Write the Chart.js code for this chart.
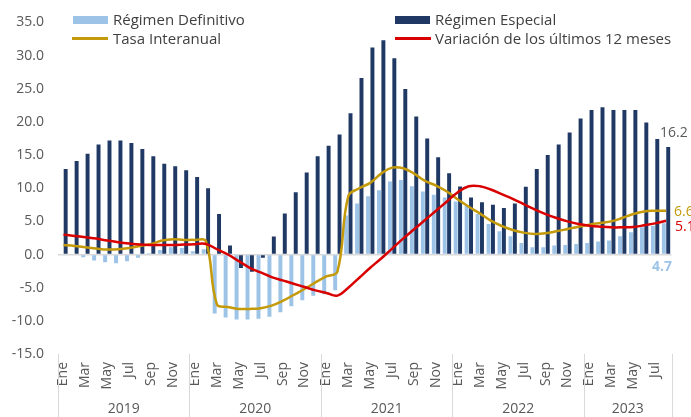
<!DOCTYPE html>
<html>
<head>
<meta charset="utf-8">
<script src="https://cdn.jsdelivr.net/npm/chart.js@4.4.0/dist/chart.umd.min.js"></script>
<style>
html,body{margin:0;padding:0;background:#fff;}
#wrap{position:relative;width:691px;height:417px;overflow:hidden;}
canvas{display:block;}
.li{position:absolute;font-family:'Open Sans',sans-serif;font-size:15px;color:#404040;white-space:nowrap;line-height:18px;}
.sw{position:absolute;}
</style>
</head>
<body>
<div id="wrap">
<canvas id="c" width="691" height="417"></canvas>
<div class="sw" style="left:73px;top:16px;width:35px;height:8px;background:#9DC3E6;"></div>
<div class="li" style="left:113px;top:10px;">Régimen Definitivo</div>
<div class="sw" style="left:72px;top:37px;width:36px;height:2.5px;background:#C49A0A;"></div>
<div class="li" style="left:113px;top:29px;">Tasa Interanual</div>
<div class="sw" style="left:395px;top:16px;width:35px;height:8px;background:#1F3864;"></div>
<div class="li" style="left:435px;top:10px;">Régimen Especial</div>
<div class="sw" style="left:395px;top:37px;width:36px;height:2.5px;background:#D90000;"></div>
<div class="li" style="left:435px;top:29px;">Variación de los últimos 12 meses</div>
</div>
<script>
// ---- Data ----
const years = ['2019','2020','2021','2022','2023'];
const monthNames = ['Ene','Feb','Mar','Abr','May','Jun','Jul','Ago','Sep','Oct','Nov','Dic'];
const monthsPerYear = [12,12,12,12,8];

const regimenDefinitivo = [
  0.0, 0.1, -0.4, -0.9, -1.15, -1.3, -1.0, -0.5, 0.2, 0.7, 1.1, 1.0,
  0.5, 0.8, -8.9, -9.5, -9.8, -9.8, -9.7, -9.4, -8.7, -7.8, -6.9, -6.2,
  -6.0, -5.4, 5.9, 7.7, 8.8, 9.7, 11.0, 11.25, 10.3, 9.5, 9.0, 8.6,
  8.0, 7.3, 6.1, 4.6, 3.5, 2.75, 1.75, 1.1, 1.1, 1.35, 1.45, 1.6,
  1.75, 1.95, 2.1, 2.75, 3.35, 4.1, 4.35, 4.7
];
const regimenEspecial = [
  12.9, 14.1, 15.2, 16.6, 17.2, 17.2, 16.8, 15.9, 14.8, 13.7, 13.3, 12.7,
  11.7, 10.0, 6.1, 1.35, -2.05, -2.6, -0.5, 2.7, 6.2, 9.4, 12.35, 14.8,
  16.4, 18.1, 21.3, 26.6, 31.2, 32.3, 29.6, 24.95, 20.8, 17.5, 14.65, 12.25,
  10.25, 8.6, 7.9, 7.5, 7.0, 7.7, 10.2, 12.9, 15.0, 16.6, 18.4, 20.5,
  21.8, 22.2, 21.8, 21.8, 21.8, 19.9, 17.4, 16.2
];
const tasaInteranual = [
  1.45, 1.3, 1.1, 0.9, 0.75, 0.8, 1.0, 1.3, 1.6, 2.1, 2.3, 2.2,
  2.2, 2.0, -7.5, -7.9, -8.2, -8.2, -8.1, -7.7, -7.0, -6.1, -5.2, -4.2,
  -3.3, -2.6, 8.8, 10.0, 10.8, 12.2, 13.1, 13.0, 12.2, 11.1, 10.4, 9.5,
  8.3, 7.2, 6.2, 5.1, 4.3, 3.7, 3.3, 3.1, 3.2, 3.5, 3.85, 4.2,
  4.5, 4.75, 5.0, 5.5, 6.1, 6.5, 6.6, 6.6
];
const variacion12m = [
  3.0, 2.8, 2.6, 2.4, 2.1, 1.85, 1.65, 1.5, 1.45, 1.45, 1.45, 1.5,
  1.55, 1.6, 0.8, 0.0, -1.0, -2.0, -2.7, -3.4, -3.9, -4.4, -4.9, -5.4,
  -5.8, -6.2, -5.0, -3.5, -2.0, -0.6, 0.9, 2.4, 3.8, 5.2, 6.6, 8.0,
  9.4, 10.3, 10.3, 9.8, 9.1, 8.4, 7.6, 6.8, 6.1, 5.5, 5.0, 4.6,
  4.35, 4.2, 4.1, 4.1, 4.15, 4.4, 4.7, 5.1
];
const lastLabels = ['16.2', '6.6', '5.1', '4.7'];

// ---- Build categories ----
const categories = [];
const yearOfIndex = [];
years.forEach((y, yi) => {
  for (let m = 0; m < monthsPerYear[yi]; m++) { categories.push(monthNames[m]); yearOfIndex.push(y); }
});

const FONT = "'Open Sans', sans-serif";
const GRAY = '#595959';
const C_DEF = '#9DC3E6', C_ESP = '#1F3864', C_TASA = '#C49A0A', C_VAR = '#D90000';

const yearPlugin = {
  id: 'yearPlugin',
  afterDraw(chart) {
    const ctx = chart.ctx, xs = chart.scales.x, area = chart.chartArea;
    const n = categories.length;
    const w = (xs.right - xs.left) / n;
    ctx.save();
    ctx.strokeStyle = '#D9D9D9';
    ctx.lineWidth = 1;
    let start = 0;
    const bounds = [];
    years.forEach((y, yi) => {
      const end = start + monthsPerYear[yi] - 1;
      const x0 = xs.getPixelForValue(start) - w / 2;
      const x1 = xs.getPixelForValue(end) + w / 2;
      bounds.push(x0); if (yi === years.length - 1) bounds.push(x1);
      ctx.fillStyle = GRAY;
      ctx.font = '14px ' + FONT;
      ctx.textAlign = 'center';
      ctx.textBaseline = 'middle';
      ctx.fillText(y, (x0 + x1) / 2, 409);
      start = end + 1;
    });
    bounds.forEach(b => {
      const xx = Math.round(b) + 0.5;
      ctx.beginPath(); ctx.moveTo(xx, area.bottom); ctx.lineTo(xx, 417); ctx.stroke();
    });
    // end-value labels
    const ys = chart.scales.y;
    const li = n - 1;
    const xc = xs.getPixelForValue(li);
    ctx.textBaseline = 'middle';
    ctx.textAlign = 'left';
    ctx.font = '14px ' + FONT;
    ctx.fillStyle = GRAY;
    ctx.fillText(lastLabels[0], xc - 6, ys.getPixelForValue(regimenEspecial[li]) - 14);
    ctx.fillStyle = C_TASA;
    ctx.fillText(lastLabels[1], xc + 8, ys.getPixelForValue(tasaInteranual[li]) + 1);
    ctx.fillStyle = C_VAR;
    ctx.fillText(lastLabels[2], xc + 9, ys.getPixelForValue(variacion12m[li]) + 6);
    ctx.fillStyle = C_DEF;
    ctx.font = 'bold 14px ' + FONT;
    ctx.textAlign = 'center';
    ctx.fillText(lastLabels[3], xc - 4, ys.getPixelForValue(0) + 12);
    ctx.restore();
  }
};

new Chart(document.getElementById('c'), {
  type: 'bar',
  data: {
    labels: categories,
    datasets: [
      { type: 'line', label: 'Variación de los últimos 12 meses', data: variacion12m, borderColor: C_VAR, backgroundColor: C_VAR, borderWidth: 2.5, pointRadius: 0, tension: 0.4, order: 0 },
      { type: 'line', label: 'Tasa Interanual', data: tasaInteranual, borderColor: C_TASA, backgroundColor: C_TASA, borderWidth: 2.5, pointRadius: 0, tension: 0.4, order: 1 },
      { label: 'Régimen Definitivo', data: regimenDefinitivo, backgroundColor: C_DEF, categoryPercentage: 0.8, barPercentage: 0.9, order: 2 },
      { label: 'Régimen Especial', data: regimenEspecial, backgroundColor: C_ESP, categoryPercentage: 0.8, barPercentage: 0.9, order: 2 }
    ]
  },
  options: {
    responsive: false,
    animation: false,
    devicePixelRatio: 1,
    layout: { padding: { top: 22, right: 18, left: 0, bottom: 0 } },
    plugins: { legend: { display: false }, tooltip: { enabled: false } },
    scales: {
      x: {
        offset: true,
        grid: { display: false, drawTicks: false },
        border: { display: false },
        ticks: {
          autoSkip: false, maxRotation: 90, minRotation: 90, padding: 8,
          color: GRAY, font: { family: FONT, size: 14 },
          callback: function (v, i) { return i % 2 === 0 ? this.getLabelForValue(v) : ''; }
        },
        afterFit: s => { s.height = 63; }
      },
      y: {
        min: -15, max: 35,
        ticks: { stepSize: 5, color: GRAY, padding: 14, font: { family: FONT, size: 14 }, callback: v => v.toFixed(1) },
        grid: { drawTicks: false, color: c => c.tick && c.tick.value === 0 ? '#D9D9D9' : 'rgba(0,0,0,0)', lineWidth: 1.5 },
        border: { display: false },
        afterFit: s => { s.width = 58; }
      }
    }
  },
  plugins: [yearPlugin]
});
</script>
</body>
</html>
